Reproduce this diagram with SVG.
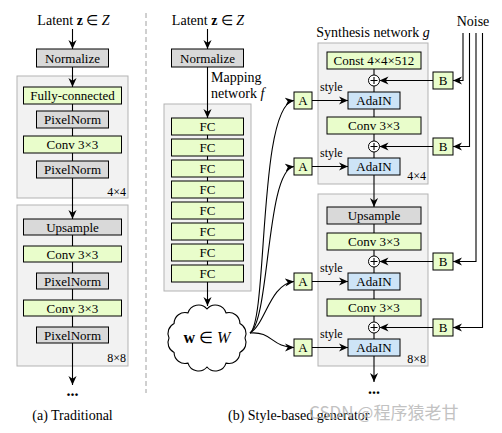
<svg xmlns="http://www.w3.org/2000/svg" width="502" height="433" viewBox="0 0 502 433">
<defs>
<marker id="ah" viewBox="0 0 10 10" refX="10" refY="5" markerWidth="9" markerHeight="9" markerUnits="userSpaceOnUse" orient="auto"><path d="M0,0.5 L10,5 L0,9.5 L3,5 z" fill="#000"/></marker>
<style>
text{font-family:"Liberation Serif", serif}
.lbl{font-size:13px;text-anchor:middle}
.ttl{font-size:14px}
.sm{font-size:12px;text-anchor:end}
.blk{fill:#f2f2f2;stroke:#b3b3b3;stroke-width:1}
.g{fill:#e9fdcb;stroke:#000;stroke-width:1}
.gr{fill:#d9d9d9;stroke:#000;stroke-width:1}
.bl{fill:#cde4f7;stroke:#000;stroke-width:1}
.ln{stroke:#000;stroke-width:1.1;fill:none}
.ar{stroke:#000;stroke-width:1.1;fill:none;marker-end:url(#ah)}
.sty{font-size:12px}
.wm{font-family:"Noto Sans CJK SC", sans-serif;font-size:17px;fill:#b8b8b8}
</style>
</defs>
<rect width="502" height="433" fill="#fff"/>
<line x1="146" y1="13" x2="146" y2="393" stroke="#a0a0a0" stroke-width="1" stroke-dasharray="5,3"/>

<g id="blocks">
<rect id="a-block4" class="blk" x="17" y="76" width="111" height="122"/>
<rect id="a-block8" class="blk" x="17" y="205" width="111" height="161"/>
<rect id="mapping-block" class="blk" x="164" y="104" width="87" height="187"/>
<rect id="s-block4" class="blk" x="318" y="43" width="110" height="141"/>
<rect id="s-block8" class="blk" x="318" y="194" width="110" height="172"/>
</g>

<g id="connectors">
<line class="ar" x1="72.5" y1="29" x2="72.5" y2="49"/>
<line class="ar" x1="72.5" y1="67" x2="72.5" y2="87"/>
<line class="ln" x1="72.5" y1="104" x2="72.5" y2="161"/>
<line class="ar" x1="72.5" y1="178" x2="72.5" y2="219"/>
<line class="ln" x1="72.5" y1="235" x2="72.5" y2="327"/>
<line class="ar" x1="72.5" y1="343" x2="72.5" y2="385"/>
<line class="ar" x1="207.5" y1="29" x2="207.5" y2="49"/>
<line class="ar" x1="207.5" y1="67" x2="207.5" y2="118"/>
<line class="ln" x1="207.5" y1="135" x2="207.5" y2="265"/>
<line class="ar" x1="207.5" y1="282" x2="207.5" y2="306"/>
<path class="ar" d="M250,333 C268,320 258,105 294,100.5"/>
<path class="ar" d="M250,333 C270,320 266,170 294,166.5"/>
<path class="ar" d="M250,333 C265,325 270,284 294,281.5"/>
<path class="ar" d="M250,333 C272,331 272,347.5 294,347.5"/>
<line class="ar" x1="312" y1="100.5" x2="348" y2="100.5"/>
<line class="ar" x1="312" y1="166.5" x2="348" y2="166.5"/>
<line class="ar" x1="312" y1="281.5" x2="348" y2="281.5"/>
<line class="ar" x1="312" y1="347.5" x2="348" y2="347.5"/>
<line class="ln" x1="374" y1="69" x2="374" y2="75"/>
<line class="ln" x1="374" y1="86" x2="374" y2="92"/>
<line class="ln" x1="374" y1="109" x2="374" y2="117"/>
<line class="ln" x1="374" y1="134" x2="374" y2="141"/>
<line class="ln" x1="374" y1="152" x2="374" y2="158"/>
<line class="ar" x1="374" y1="175" x2="374" y2="207"/>
<line class="ln" x1="374" y1="224" x2="374" y2="233"/>
<line class="ln" x1="374" y1="250" x2="374" y2="256"/>
<line class="ln" x1="374" y1="267" x2="374" y2="273"/>
<line class="ln" x1="374" y1="290" x2="374" y2="299"/>
<line class="ln" x1="374" y1="316" x2="374" y2="322"/>
<line class="ln" x1="374" y1="333" x2="374" y2="339"/>
<line class="ar" x1="374" y1="356" x2="374" y2="382"/>
<line class="ar" x1="433" y1="80.5" x2="379.5" y2="80.5"/>
<line class="ar" x1="433" y1="146.5" x2="379.5" y2="146.5"/>
<line class="ar" x1="433" y1="261.5" x2="379.5" y2="261.5"/>
<line class="ar" x1="433" y1="327.5" x2="379.5" y2="327.5"/>
<path class="ar" d="M463,33 V80.5 H453"/>
<path class="ar" d="M469.5,33 V146.5 H453"/>
<path class="ar" d="M476,33 V261.5 H453"/>
<path class="ar" d="M482.5,33 V327.5 H453"/>
</g>

<g id="a-latent"><text class="ttl" x="73.5" y="25" text-anchor="middle">Latent <tspan font-weight="bold">z</tspan> ∈ <tspan font-style="italic">Z</tspan></text></g>
<g id="a-normalize"><rect class="gr" x="36.5" y="49" width="72" height="18"/><text class="lbl" x="72.5" y="62.5">Normalize</text></g>
<g id="a-fc"><rect class="g" x="23.5" y="87" width="98" height="17"/><text class="lbl" x="72.5" y="100">Fully-connected</text></g>
<g id="a-pn1"><rect class="gr" x="36.5" y="111" width="72" height="17"/><text class="lbl" x="72.5" y="124">PixelNorm</text></g>
<g id="a-conv1"><rect class="g" x="23.5" y="136" width="98" height="17"/><text class="lbl" x="72.5" y="149">Conv 3×3</text></g>
<g id="a-pn2"><rect class="gr" x="36.5" y="161" width="72" height="17"/><text class="lbl" x="72.5" y="174">PixelNorm</text></g>
<g id="a-label4"><text class="sm" x="126" y="196">4×4</text></g>
<g id="a-upsample"><rect class="gr" x="23.5" y="219" width="98" height="16"/><text class="lbl" x="72.5" y="231.5">Upsample</text></g>
<g id="a-conv2"><rect class="g" x="23.5" y="246" width="98" height="16"/><text class="lbl" x="72.5" y="258.5">Conv 3×3</text></g>
<g id="a-pn3"><rect class="gr" x="36.5" y="273" width="72" height="16"/><text class="lbl" x="72.5" y="285.5">PixelNorm</text></g>
<g id="a-conv3"><rect class="g" x="23.5" y="300" width="98" height="16"/><text class="lbl" x="72.5" y="312.5">Conv 3×3</text></g>
<g id="a-pn4"><rect class="gr" x="36.5" y="327" width="72" height="16"/><text class="lbl" x="72.5" y="339.5">PixelNorm</text></g>
<g id="a-label8"><text class="sm" x="126" y="362">8×8</text></g>
<g id="a-dots"><text x="72.5" y="396" text-anchor="middle" font-size="16" font-weight="bold">...</text></g>
<g id="a-caption"><text class="ttl" x="72.5" y="420" text-anchor="middle">(a) Traditional</text></g>

<g id="b-latent"><text class="ttl" x="208" y="25" text-anchor="middle">Latent <tspan font-weight="bold">z</tspan> ∈ <tspan font-style="italic">Z</tspan></text></g>
<g id="b-normalize"><rect class="gr" x="171.5" y="49" width="72" height="18"/><text class="lbl" x="207.5" y="62.5">Normalize</text></g>
<g id="mapping-label"><text class="ttl" x="211" y="82">Mapping</text><text class="ttl" x="211" y="98">network <tspan font-style="italic">f</tspan></text></g>
<g id="fc1"><rect class="g" x="171.5" y="118" width="72" height="17"/><text class="lbl" x="207.5" y="131">FC</text></g>
<g id="fc2"><rect class="g" x="171.5" y="139" width="72" height="17"/><text class="lbl" x="207.5" y="152">FC</text></g>
<g id="fc3"><rect class="g" x="171.5" y="160" width="72" height="17"/><text class="lbl" x="207.5" y="173">FC</text></g>
<g id="fc4"><rect class="g" x="171.5" y="181" width="72" height="17"/><text class="lbl" x="207.5" y="194">FC</text></g>
<g id="fc5"><rect class="g" x="171.5" y="202" width="72" height="17"/><text class="lbl" x="207.5" y="215">FC</text></g>
<g id="fc6"><rect class="g" x="171.5" y="223" width="72" height="17"/><text class="lbl" x="207.5" y="236">FC</text></g>
<g id="fc7"><rect class="g" x="171.5" y="244" width="72" height="17"/><text class="lbl" x="207.5" y="257">FC</text></g>
<g id="fc8"><rect class="g" x="171.5" y="265" width="72" height="17"/><text class="lbl" x="207.5" y="278">FC</text></g>
<g id="w-cloud">
<path d="M245,338 A11,11 0 0 1 239.9,352.5 A11,11 0 0 1 226,363.1 A11,11 0 0 1 207,367 A11,11 0 0 1 188,363.1 A11,11 0 0 1 174.1,352.5 A11,11 0 0 1 169,338 A11,11 0 0 1 174.1,323.5 A11,11 0 0 1 188,312.9 A11,11 0 0 1 207,309 A11,11 0 0 1 226,312.9 A11,11 0 0 1 239.9,323.5 A11,11 0 0 1 245,338 Z" fill="#fff" stroke="#000" stroke-width="1.1"/>
<text x="207" y="343" text-anchor="middle" font-size="16"><tspan font-weight="bold">w</tspan> ∈ <tspan font-style="italic">W</tspan></text>
</g>

<g id="A1"><rect class="g" x="294" y="92" width="18" height="17"/><text class="lbl" x="303" y="105">A</text></g>
<g id="A2"><rect class="g" x="294" y="158" width="18" height="17"/><text class="lbl" x="303" y="171">A</text></g>
<g id="A3"><rect class="g" x="294" y="273" width="18" height="17"/><text class="lbl" x="303" y="286">A</text></g>
<g id="A4"><rect class="g" x="294" y="339" width="18" height="17"/><text class="lbl" x="303" y="352">A</text></g>

<g id="synth-label"><text class="ttl" x="373" y="37" text-anchor="middle">Synthesis network <tspan font-style="italic">g</tspan></text></g>
<g id="noise-label"><text class="ttl" x="473" y="26" text-anchor="middle">Noise</text></g>
<g id="const"><rect class="g" x="327" y="52" width="94" height="17"/><text class="lbl" x="374" y="65">Const 4×4×512</text></g>
<g id="plus1"><circle cx="374" cy="80.5" r="5.5" fill="#fff" stroke="#000"/><path class="ln" d="M370.5,80.5 H377.5 M374,77 V84"/></g>
<g id="adain1"><rect class="bl" x="348" y="92" width="52" height="17"/><text class="lbl" x="374" y="105">AdaIN</text><text class="sty" x="320" y="91">style</text></g>
<g id="conv-s1"><rect class="g" x="327" y="117" width="94" height="17"/><text class="lbl" x="374" y="130">Conv 3×3</text></g>
<g id="plus2"><circle cx="374" cy="146.5" r="5.5" fill="#fff" stroke="#000"/><path class="ln" d="M370.5,146.5 H377.5 M374,143 V150"/></g>
<g id="adain2"><rect class="bl" x="348" y="158" width="52" height="17"/><text class="lbl" x="374" y="171">AdaIN</text><text class="sty" x="320" y="157">style</text></g>
<g id="s-label4"><text class="sm" x="426" y="180">4×4</text></g>
<g id="s-upsample"><rect class="gr" x="327" y="207" width="94" height="17"/><text class="lbl" x="374" y="220">Upsample</text></g>
<g id="conv-s2"><rect class="g" x="327" y="233" width="94" height="17"/><text class="lbl" x="374" y="246">Conv 3×3</text></g>
<g id="plus3"><circle cx="374" cy="261.5" r="5.5" fill="#fff" stroke="#000"/><path class="ln" d="M370.5,261.5 H377.5 M374,258 V265"/></g>
<g id="adain3"><rect class="bl" x="348" y="273" width="52" height="17"/><text class="lbl" x="374" y="286">AdaIN</text><text class="sty" x="320" y="272">style</text></g>
<g id="conv-s3"><rect class="g" x="327" y="299" width="94" height="17"/><text class="lbl" x="374" y="312">Conv 3×3</text></g>
<g id="plus4"><circle cx="374" cy="327.5" r="5.5" fill="#fff" stroke="#000"/><path class="ln" d="M370.5,327.5 H377.5 M374,324 V331"/></g>
<g id="adain4"><rect class="bl" x="348" y="339" width="52" height="17"/><text class="lbl" x="374" y="352">AdaIN</text><text class="sty" x="320" y="338">style</text></g>
<g id="s-label8"><text class="sm" x="426" y="363">8×8</text></g>
<g id="s-dots"><text x="374" y="394" text-anchor="middle" font-size="16" font-weight="bold">...</text></g>

<g id="B1"><rect class="g" x="433" y="72" width="20" height="17"/><text class="lbl" x="443" y="85">B</text></g>
<g id="B2"><rect class="g" x="433" y="138" width="20" height="17"/><text class="lbl" x="443" y="151">B</text></g>
<g id="B3"><rect class="g" x="433" y="253" width="20" height="17"/><text class="lbl" x="443" y="266">B</text></g>
<g id="B4"><rect class="g" x="433" y="319" width="20" height="17"/><text class="lbl" x="443" y="332">B</text></g>

<g id="b-caption"><text class="ttl" x="228" y="420">(b) Style-based generator</text></g>
<g id="watermark"><text class="wm" x="309" y="419" opacity="0.85">CSDN @程序猿老甘</text></g>
</svg>
